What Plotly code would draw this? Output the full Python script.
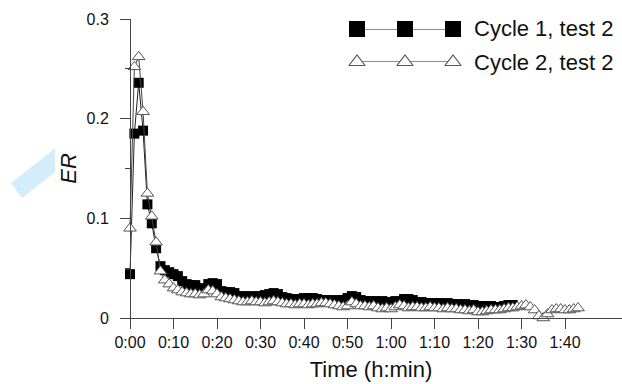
import plotly.graph_objects as go

# ---------------- data ----------------
series_names = ["Cycle 1, test 2", "Cycle 2, test 2"]

time_c1 = list(range(0, 89))  # minutes
er_c1 = [0.044, 0.185, 0.236, 0.188, 0.114, 0.095, 0.070, 0.052, 0.048, 0.046,
         0.044, 0.042, 0.037, 0.034, 0.033, 0.033, 0.027, 0.030, 0.034, 0.035,
         0.034, 0.027, 0.026, 0.026, 0.025, 0.022, 0.022, 0.021, 0.022, 0.021,
         0.022, 0.023, 0.024, 0.025, 0.024, 0.021, 0.020, 0.019, 0.019, 0.019,
         0.020, 0.020, 0.020, 0.019, 0.018, 0.018, 0.018, 0.017, 0.018, 0.018,
         0.020, 0.022, 0.021, 0.018, 0.017, 0.017, 0.017, 0.016, 0.017, 0.016,
         0.016, 0.017, 0.016, 0.019, 0.019, 0.018, 0.016, 0.016, 0.015, 0.015,
         0.015, 0.015, 0.014, 0.015, 0.014, 0.014, 0.013, 0.014, 0.013, 0.013,
         0.012, 0.012, 0.012, 0.012, 0.011, 0.011, 0.012, 0.013, 0.013]

time_c2 = list(range(0, 104))  # minutes
er_c2 = [0.090, 0.252, 0.262, 0.207, 0.125, 0.102, 0.076, 0.047, 0.038, 0.034,
         0.030, 0.028, 0.026, 0.025, 0.024, 0.024, 0.023, 0.024, 0.028, 0.027,
         0.024, 0.021, 0.020, 0.019, 0.018, 0.017, 0.016, 0.016, 0.017, 0.016,
         0.016, 0.015, 0.016, 0.017, 0.016, 0.015, 0.014, 0.014, 0.013, 0.014,
         0.014, 0.013, 0.014, 0.014, 0.015, 0.015, 0.014, 0.013, 0.012, 0.011,
         0.012, 0.016, 0.014, 0.012, 0.012, 0.011, 0.012, 0.010, 0.009, 0.010,
         0.009, 0.011, 0.013, 0.012, 0.010, 0.011, 0.011, 0.010, 0.010, 0.011,
         0.010, 0.010, 0.009, 0.010, 0.009, 0.009, 0.008, 0.008, 0.007, 0.008,
         0.006, 0.006, 0.007, 0.008, 0.008, 0.008, 0.009, 0.010, 0.010, 0.011,
         0.012, 0.013, 0.011, 0.008, 0.002, 0.000, 0.004, 0.008, 0.009, 0.009,
         0.008, 0.008, 0.009, 0.010]

x_tick_vals = [0, 10, 20, 30, 40, 50, 60, 70, 80, 90, 100]
x_tick_labels = ["0:00", "0:10", "0:20", "0:30", "0:40", "0:50",
                 "1:00", "1:10", "1:20", "1:30", "1:40"]
y_tick_vals = [0, 0.1, 0.2, 0.3]
y_tick_labels = ["0", "0.1", "0.2", "0.3"]

legend_sample_x = [0, 1, 2]

# ---------------- figure ----------------
FONT = "Liberation Sans, Arial, Helvetica, sans-serif"
W, H = 622, 384
ML, MR, MT, MB = 120, 0, 19, 66
x_min, x_max = -2.3, 113.1

fig = go.Figure()

fig.add_trace(go.Scatter(
    x=time_c1, y=er_c1, mode="lines+markers", name=series_names[0],
    line=dict(color="#222222", width=1),
    marker=dict(symbol="square", size=10, color="#000000",
                line=dict(color="#000000", width=0)),
    cliponaxis=False, showlegend=False))

fig.add_trace(go.Scatter(
    x=time_c2, y=er_c2, mode="lines+markers", name=series_names[1],
    line=dict(color="#444444", width=1),
    marker=dict(symbol="triangle-up", size=11, color="#ffffff",
                line=dict(color="#555555", width=1)),
    cliponaxis=False, showlegend=False))

# custom legend samples (three markers joined by a line)
fig.add_trace(go.Scatter(
    x=legend_sample_x, y=[1] * len(legend_sample_x), xaxis="x2", yaxis="y2",
    mode="lines+markers", line=dict(color="#666666", width=1.5),
    marker=dict(symbol="square", size=16, color="#000000"),
    cliponaxis=False, showlegend=False, hoverinfo="skip"))
fig.add_trace(go.Scatter(
    x=legend_sample_x, y=[0] * len(legend_sample_x), xaxis="x2", yaxis="y2",
    mode="lines+markers", line=dict(color="#666666", width=1.5),
    marker=dict(symbol="triangle-up", size=14, color="#ffffff",
                line=dict(color="#555555", width=1.2)),
    cliponaxis=False, showlegend=False, hoverinfo="skip"))

pw = W - ML - MR
ph = H - MT - MB


def px_x(p):
    return (p - ML) / pw


def px_y(p):
    return (H - MB - p) / ph


fig.update_layout(
    width=W, height=H,
    margin=dict(l=ML, r=MR, t=MT, b=MB, autoexpand=False),
    paper_bgcolor="#ffffff", plot_bgcolor="#ffffff",
    font=dict(family=FONT, size=16, color="#111111"),
    showlegend=False,
    xaxis=dict(
        range=[x_min, x_max], showgrid=False, zeroline=False,
        showline=True, linecolor="#444444", linewidth=1,
        ticks="outside", ticklen=10, tickcolor="#444444", tickwidth=1,
        tickvals=x_tick_vals, ticktext=x_tick_labels,
        tickfont=dict(size=16, color="#111111"),
        title=dict(text="Time (h:min)", font=dict(size=22, color="#111111"),
                   standoff=11),
    ),
    yaxis=dict(
        range=[0, 0.3], showgrid=False, zeroline=False,
        anchor="free", position=(0 - x_min) / (x_max - x_min),
        showline=True, linecolor="#444444", linewidth=1,
        ticks="outside", ticklen=10, tickcolor="#444444", tickwidth=1,
        tickvals=y_tick_vals, ticktext=y_tick_labels,
        tickfont=dict(size=16, color="#111111"),
        ticklabelstandoff=8,
        minor=dict(dtick=0.05, ticks="outside", ticklen=5,
                   tickcolor="#444444", showgrid=False),
        title=dict(text="<i>ER</i>", font=dict(size=22, color="#111111"),
                   standoff=2),
    ),
    xaxis2=dict(domain=[px_x(357), px_x(453)], range=[0, 2], visible=False,
                anchor="y2", fixedrange=True),
    yaxis2=dict(domain=[px_y(62), px_y(29)], range=[0, 1], visible=False,
                anchor="x2", fixedrange=True),
)

for label, row_px in zip(series_names, [29, 62]):
    fig.add_annotation(
        text=label, xref="paper", yref="paper",
        x=px_x(472), y=px_y(row_px), xanchor="left", yanchor="middle",
        showarrow=False, font=dict(size=22, color="#111111", family=FONT))

# light blue arrow-like decoration at left
pts = [(11, 183), (53, 150), (55, 148), (55, 172), (22, 198)]
path = "M " + " L ".join(f"{px_x(a):.4f},{px_y(b):.4f}" for a, b in pts) + " Z"
fig.add_shape(type="path", path=path, xref="paper", yref="paper",
              fillcolor="#d4edfb", line=dict(width=0), layer="below")

fig.write_html("out.html",
               config={"displayModeBar": False},
               post_script="document.body.style.margin='0px';")
